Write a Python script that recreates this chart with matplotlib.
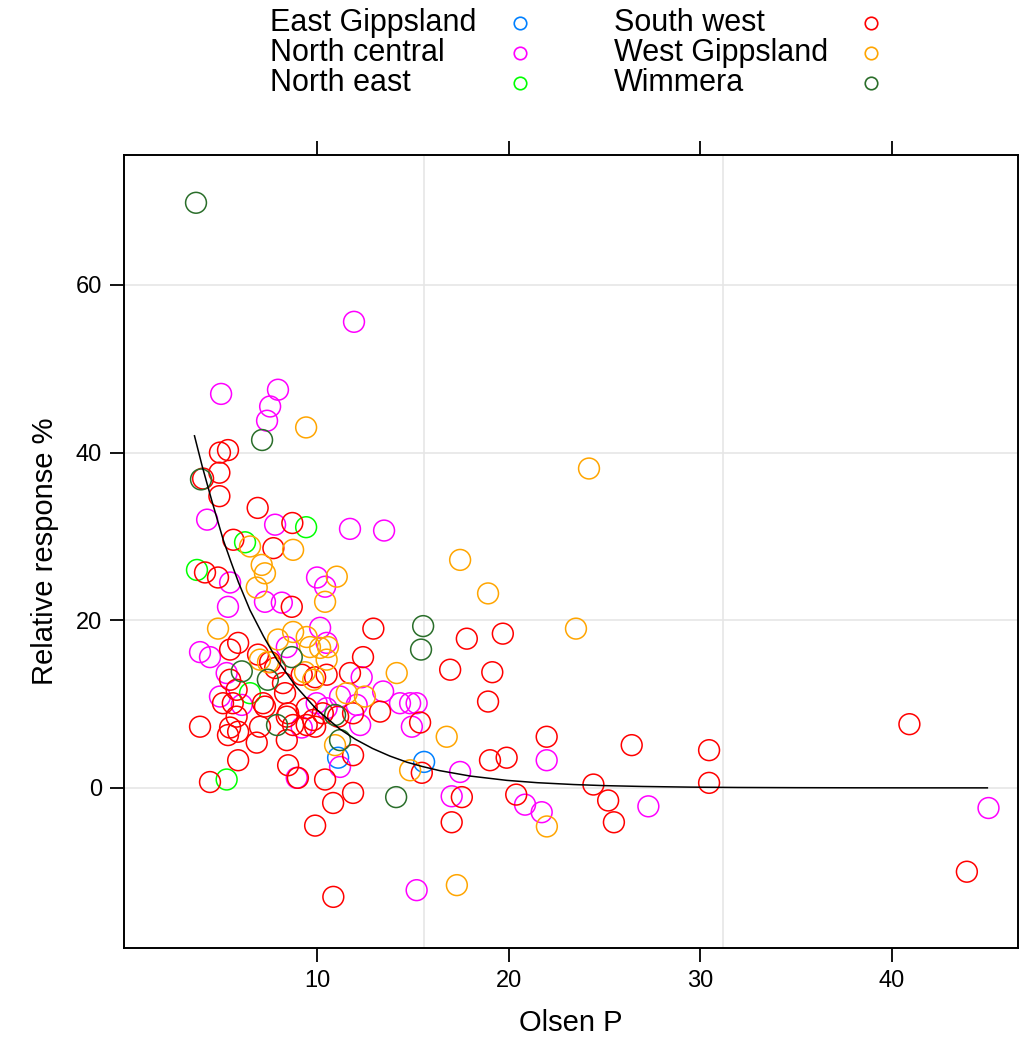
import matplotlib
matplotlib.use("Agg")
import matplotlib.pyplot as plt
from matplotlib.lines import Line2D

plt.rcParams['font.family'] = ['Liberation Sans', 'DejaVu Sans']

groups = ["East Gippsland", "North central", "North east", "South west", "West Gippsland", "Wimmera"]
colors = ["#0080ff", "#ff00ff", "#00ff00", "#ff0000", "#ffa500", "#2a6e2a"]

east_gippsland_x = [15.59, 11.1]
east_gippsland_y = [3.1, 3.6]

north_central_x = [11.93, 4.99, 7.96, 7.55, 7.39, 4.26, 7.81, 11.72, 13.5, 10.0, 10.42, 5.46, 5.35, 7.28, 8.16,
                   3.89, 4.41, 10.16, 8.42, 5.28, 4.93, 9.98, 10.5, 12.33, 12.25, 9.2, 6.07, 11.2, 8.94, 10.5,
                   13.45, 14.33, 14.86, 15.2, 12.07, 11.2, 14.95, 17.47, 17.03, 20.86, 21.73, 21.99, 15.2, 27.3, 45.06]
north_central_y = [55.6, 47.0, 47.5, 45.5, 43.8, 32.0, 31.4, 30.9, 30.7, 25.1, 24.0, 24.5, 21.6, 22.2, 22.1,
                   16.2, 15.6, 19.1, 16.8, 13.7, 10.9, 10.1, 9.5, 13.2, 7.5, 7.2, 9.9, 2.5, 1.2, 17.3,
                   11.5, 10.1, 10.1, 10.1, 9.9, 10.9, 7.3, 1.9, -1.0, -2.0, -2.9, 3.3, -12.2, -2.2, -2.4]

north_east_x = [3.73, 9.43, 6.24, 6.5, 5.28]
north_east_y = [26.0, 31.1, 29.3, 11.3, 1.0]

south_west_x = [4.93, 5.35, 4.9, 4.05, 4.9, 6.9, 8.71, 5.63, 7.72, 4.15, 4.83, 8.68, 5.46, 5.88, 6.92,
                7.55, 7.81, 12.4, 12.94, 5.46, 5.8, 8.33, 9.2, 9.9, 10.5, 11.72, 5.09, 5.6, 7.28, 8.49,
                9.46, 3.89, 5.46, 5.88, 7.02, 8.75, 9.9, 11.88, 5.35, 5.88, 4.41, 6.85, 8.42, 8.42, 8.49,
                9.0, 9.46, 10.42, 10.84, 9.9, 10.85, 11.88, 11.88, 10.3, 11.1, 13.29, 18.93, 15.38, 15.47, 19.03,
                19.9, 20.4, 17.03, 17.56, 21.99, 24.43, 25.2, 25.5, 26.43, 30.47, 30.47, 40.93, 43.93, 17.82, 19.7,
                16.95, 19.15, 8.22, 7.18, 5.8, 9.8]
south_west_y = [40.0, 40.3, 37.6, 36.9, 34.8, 33.4, 31.6, 29.6, 28.6, 25.7, 25.1, 21.6, 16.5, 17.3, 15.9,
                15.0, 14.3, 15.6, 19.0, 12.9, 11.7, 11.3, 13.5, 13.2, 13.5, 13.7, 10.1, 10.1, 9.7, 8.9,
                9.5, 7.3, 7.2, 6.7, 7.3, 7.5, 7.3, 8.9, 6.3, 3.3, 0.7, 5.4, 8.5, 5.7, 2.7,
                1.2, 7.5, 1.0, -1.8, -4.5, -13.0, -0.6, 3.9, 8.9, 8.5, 9.1, 10.3, 7.8, 1.8, 3.3,
                3.6, -0.8, -4.1, -1.1, 6.1, 0.4, -1.5, -4.1, 5.1, 4.5, 0.6, 7.6, -10.0, 17.8, 18.4,
                14.1, 13.8, 12.5, 10.1, 8.5, 8.1]

west_gippsland_x = [9.43, 24.2, 17.47, 18.93, 23.52, 4.83, 6.5, 8.75, 7.11, 7.28, 6.85, 11.03, 10.42, 8.75, 7.96,
                    9.46, 10.16, 10.57, 7.02, 9.8, 11.55, 12.5, 9.63, 10.5, 14.16, 9.37, 16.77, 14.86, 17.3, 22.0,
                    10.94, 7.44]
west_gippsland_y = [43.0, 38.1, 27.2, 23.2, 19.0, 19.0, 28.8, 28.4, 26.6, 25.6, 23.9, 25.2, 22.2, 18.6, 17.7,
                    18.0, 16.7, 16.8, 15.3, 12.9, 11.3, 10.9, 16.8, 15.3, 13.7, 13.8, 6.1, 2.1, -11.6, -4.6,
                    5.1, 15.0]

wimmera_x = [3.68, 7.13, 3.94, 6.07, 7.43, 8.68, 7.91, 10.94, 11.2, 15.54, 15.43, 14.13]
wimmera_y = [69.8, 41.5, 36.8, 13.9, 12.9, 15.6, 7.5, 8.7, 5.7, 19.3, 16.5, -1.1]

# fitted curve
curve_x = [3.6, 4.0, 4.5, 5.1, 5.5, 5.9, 6.5, 7.2, 7.9, 8.9, 10.0, 11.2, 12.0, 12.9, 13.8, 14.7, 15.5, 16.4,
           18.0, 19.9, 21.5, 23.4, 25.0, 27.0, 29.5, 32.0, 35.0, 38.0, 41.5, 45.0]
curve_y = [42.0, 38.4, 34.3, 29.6, 27.0, 24.5, 21.2, 18.1, 15.3, 12.1, 9.3, 7.0, 5.8, 4.7, 3.8, 3.06, 2.55, 2.06,
           1.41, 0.90, 0.62, 0.40, 0.27, 0.17, 0.09, 0.05, 0.025, 0.012, 0.005, 0.002]

xs = [east_gippsland_x, north_central_x, north_east_x, south_west_x, west_gippsland_x, wimmera_x]
ys = [east_gippsland_y, north_central_y, north_east_y, south_west_y, west_gippsland_y, wimmera_y]

x_ticks = [10, 20, 30, 40]
y_ticks = [0, 20, 40, 60]
v_grid = [15.6, 31.2]

fig = plt.figure(figsize=(10.24, 10.5), dpi=100)
ax = fig.add_axes([124/1024, 1-948/1050, (1018-124)/1024, (948-155)/1050])

for g in y_ticks:
    ax.axhline(g, color="#e6e6e6", lw=1.2, zorder=0)
for g in v_grid:
    ax.axvline(g, color="#e6e6e6", lw=1.2, zorder=0)

for x, y, c in zip(xs, ys, colors):
    ax.scatter(x, y, s=15**2, facecolors='none', edgecolors=c, linewidths=1.1, zorder=3)

ax.plot(curve_x, curve_y, color='black', lw=1.1, zorder=4)

ax.set_xlim(-0.08, 46.6)
ax.set_ylim(-19.1, 75.5)
ax.set_xticks(x_ticks)
ax.set_yticks(y_ticks)
ax.tick_params(axis='x', which='both', top=True, bottom=True, labeltop=False, direction='out',
               length=10, width=1.3, labelsize=17, pad=6)
ax.tick_params(axis='y', which='both', left=True, right=False, direction='out',
               length=10, width=1.3, labelsize=17, pad=6)
for s in ax.spines.values():
    s.set_linewidth(1.4)

ax.set_xlabel("Olsen P", fontsize=21, labelpad=12)
ax.set_ylabel("Relative response %", fontsize=21, labelpad=12)

# legend
rows_y = [23, 53, 83]
col_text_x = [270, 614]
col_mark_x = [520, 871]
for i, (g, c) in enumerate(zip(groups, colors)):
    col = i // 3
    row = i % 3
    yf = 1 - rows_y[row] / 1050
    fig.text(col_text_x[col] / 1024, yf, g, fontsize=22, ha='left', va='center')
    fig.add_artist(Line2D([col_mark_x[col] / 1024], [yf], transform=fig.transFigure, marker='o',
                          markersize=9, markerfacecolor='none', markeredgecolor=c, markeredgewidth=1.2,
                          linestyle='none'))

fig.savefig("out.png", dpi=100)
